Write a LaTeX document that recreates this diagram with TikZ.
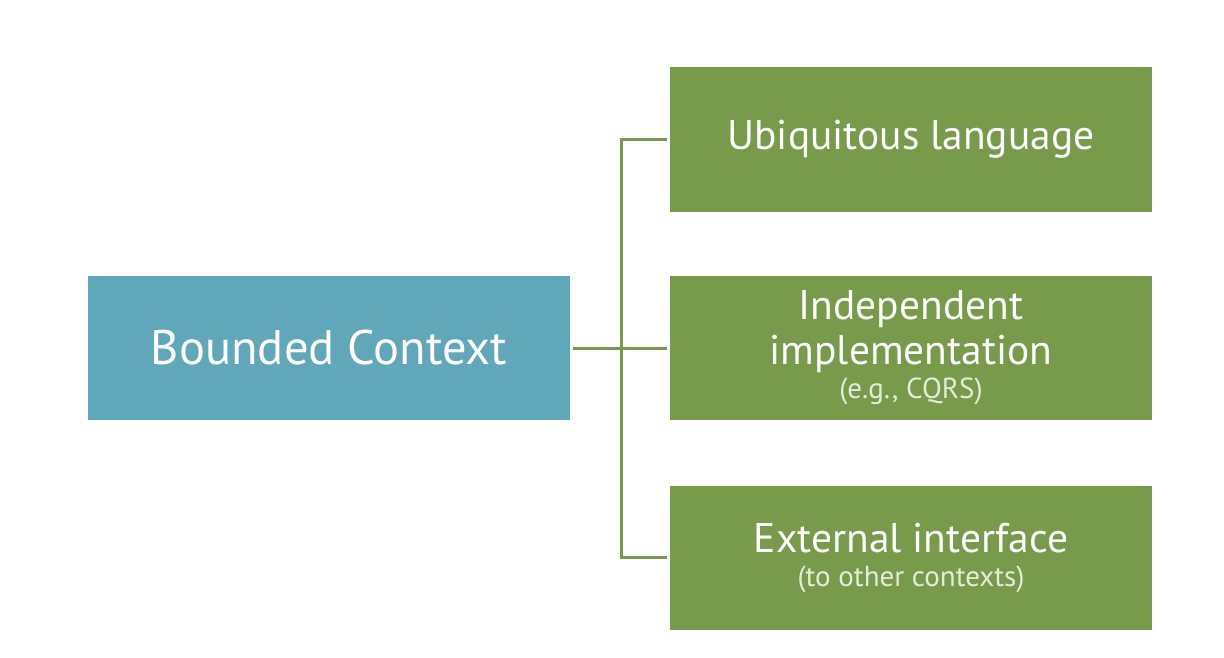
\documentclass[tikz,border=0pt]{standalone}
\usepackage{fontspec}
\setmainfont{PT Sans}
\usepackage{tikz}
\definecolor{bcteal}{HTML}{60A7BA}
\definecolor{partgreen}{HTML}{789A4B}
\definecolor{subwhite}{HTML}{E4EBDA}
\tikzset{
	bcbox/.style={fill=bcteal,text=white,minimum width=482pt,minimum height=144pt,inner sep=0pt,font=\fontsize{48.5}{56}\selectfont},
	partbox/.style={fill=partgreen,text=white,minimum width=482pt,minimum height=144pt,inner sep=0pt,align=center,font=\fontsize{41.5}{45}\selectfont},
	link/.style={draw=partgreen,line width=3pt,shorten <=3pt,shorten >=3pt}
}
\newcommand{\subnote}[1]{{\fontsize{29}{34}\selectfont\color{subwhite}#1}}
\begin{document}
\begin{tikzpicture}[x=1pt,y=-1pt]
		\useasboundingbox (0,0) rectangle (1224,658);
		\node[bcbox] (bc) at (329,348) {Bounded Context};
		\node[partbox] (ubi) at (911,139.5) {Ubiquitous language};
		\node[partbox] (impl) at (911,348) {Independent\\implementation\\[-11pt]\subnote{(e.g., CQRS)}};
		\node[partbox] (ext) at (911,557.5) {External interface\\[-11pt]\subnote{(to other contexts)}};
		\coordinate (spine) at (621,348);
		\draw[link] (bc.east) -- (impl.west);
		\draw[link] (ubi.west) -| (spine) |- (ext.west);
		\end{tikzpicture}
\end{document}
